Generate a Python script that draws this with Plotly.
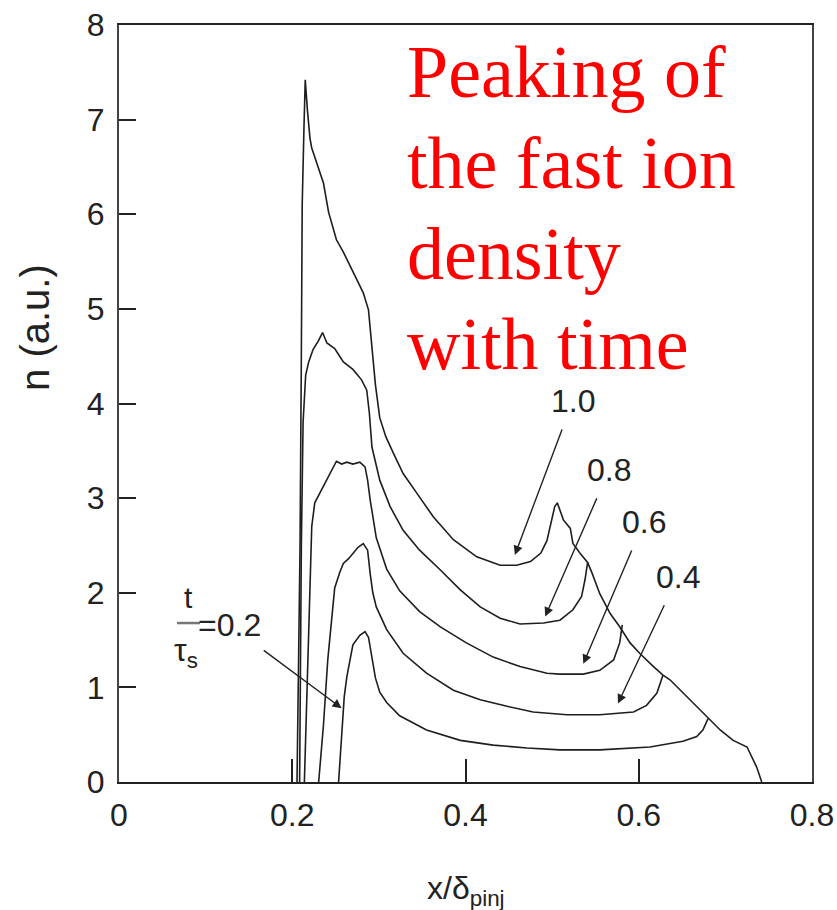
import plotly.graph_objects as go

# ---------------- data ----------------
x_t10 = [0.2055, 0.209, 0.2105, 0.2115, 0.2135, 0.2150, 0.2175, 0.2205, 0.2225, 0.226, 0.230,
         0.236, 0.242, 0.251, 0.259, 0.267, 0.275, 0.282, 0.288, 0.292, 0.296, 0.301, 0.308,
         0.317, 0.328, 0.344, 0.363, 0.386, 0.413, 0.440, 0.459, 0.475, 0.487, 0.494, 0.499,
         0.503, 0.506, 0.510, 0.513, 0.521, 0.524, 0.532, 0.541, 0.546, 0.555, 0.567, 0.578,
         0.590, 0.601, 0.617, 0.628, 0.636, 0.648, 0.663, 0.680, 0.694, 0.709, 0.725, 0.736, 0.742]
n_t10 = [0.0, 2.5, 4.5, 6.1, 6.9, 7.42, 7.1, 6.8, 6.7, 6.6, 6.48,
         6.33, 6.02, 5.73, 5.6, 5.45, 5.3, 5.17, 4.99, 4.6, 4.2, 3.85, 3.65,
         3.47, 3.26, 3.05, 2.80, 2.56, 2.38, 2.29, 2.29, 2.33, 2.42, 2.55, 2.77,
         2.91, 2.95, 2.85, 2.77, 2.68, 2.52, 2.42, 2.32, 2.21, 1.99, 1.78, 1.64,
         1.47, 1.36, 1.22, 1.13, 1.08, 0.97, 0.83, 0.67, 0.55, 0.44, 0.37, 0.16, 0.0]

x_t08 = [0.2085, 0.2105, 0.2125, 0.2155, 0.219, 0.224, 0.230, 0.235, 0.240, 0.249, 0.259,
         0.270, 0.280, 0.286, 0.289, 0.292, 0.301, 0.313, 0.328, 0.347, 0.371, 0.394, 0.417,
         0.440, 0.463, 0.490, 0.509, 0.524, 0.534, 0.538, 0.541]
n_t08 = [0.0, 2.5, 3.8, 4.3, 4.44, 4.57, 4.66, 4.75, 4.64, 4.58, 4.44,
         4.36, 4.25, 4.14, 3.9, 3.54, 3.19, 2.91, 2.66, 2.45, 2.24, 2.03, 1.85,
         1.73, 1.67, 1.68, 1.71, 1.82, 1.96, 2.14, 2.32]

x_t06 = [0.214, 0.2175, 0.2205, 0.2225, 0.226, 0.234, 0.244, 0.251, 0.257, 0.263, 0.270,
         0.278, 0.284, 0.287, 0.290, 0.297, 0.309, 0.324, 0.347, 0.371, 0.401, 0.432, 0.463,
         0.494, 0.509, 0.536, 0.555, 0.571, 0.578, 0.581]
n_t06 = [0.0, 1.2, 2.2, 2.7, 2.95, 3.09, 3.26, 3.39, 3.36, 3.38, 3.36,
         3.38, 3.33, 3.19, 2.98, 2.58, 2.25, 2.02, 1.80, 1.64, 1.47, 1.32, 1.22,
         1.15, 1.14, 1.14, 1.18, 1.29, 1.47, 1.66]

x_t04 = [0.2305, 0.236, 0.241, 0.246, 0.249, 0.255, 0.259, 0.265, 0.270, 0.276, 0.282,
         0.287, 0.290, 0.293, 0.297, 0.309, 0.328, 0.355, 0.386, 0.417, 0.448, 0.478,
         0.517, 0.555, 0.594, 0.609, 0.621, 0.626, 0.628]
n_t04 = [0.0, 0.6, 1.29, 1.8, 2.05, 2.22, 2.31, 2.36, 2.42, 2.48, 2.52,
         2.45, 2.2, 2.0, 1.85, 1.61, 1.36, 1.15, 0.97, 0.87, 0.80, 0.74,
         0.71, 0.71, 0.74, 0.81, 0.94, 1.06, 1.13]

x_t02 = [0.2535, 0.255, 0.257, 0.260, 0.263, 0.267, 0.270, 0.278, 0.284, 0.288, 0.292,
         0.296, 0.301, 0.309, 0.324, 0.355, 0.394, 0.432, 0.471, 0.509, 0.555, 0.613,
         0.651, 0.667, 0.674, 0.680]
n_t02 = [0.0, 0.2, 0.58, 0.9, 1.11, 1.32, 1.45, 1.55, 1.59, 1.53, 1.3,
         1.1, 0.95, 0.84, 0.70, 0.55, 0.44, 0.39, 0.36, 0.34, 0.34, 0.37,
         0.43, 0.48, 0.55, 0.67]

curve_labels = ["1.0", "0.8", "0.6", "0.4"]
label_pos_x = [0.524, 0.566, 0.606, 0.645]
label_pos_y = [4.03, 3.30, 2.75, 2.17]
arrow_tip_x = [0.457, 0.492, 0.536, 0.576]
arrow_tip_y = [2.40, 1.75, 1.25, 0.83]

x_ticks = [0, 0.2, 0.4, 0.6, 0.8]
x_tick_text = ["0", "0.2", "0.4", "0.6", "0.8"]
y_ticks = [0, 1, 2, 3, 4, 5, 6, 7, 8]
y_tick_text = ["0", "1", "2", "3", "4", "5", "6", "7", "8"]

red_lines = ["Peaking of", "the fast ion", "density", "with time"]

# ---------------- figure ----------------
LINE = "#1e1e1e"
SANS = "Liberation Sans, Arial, sans-serif"
TXT = "#222"

fig = go.Figure()
for xs, ys in [(x_t10, n_t10), (x_t08, n_t08), (x_t06, n_t06), (x_t04, n_t04), (x_t02, n_t02)]:
    fig.add_trace(go.Scatter(x=xs, y=ys, mode="lines",
                             line=dict(color=LINE, width=1.6), showlegend=False,
                             hoverinfo="skip"))

ann = []
for lab, lx, ly, hx, hy in zip(curve_labels, label_pos_x, label_pos_y, arrow_tip_x, arrow_tip_y):
    ann.append(dict(x=hx, y=hy, ax=lx, ay=ly, xref="x", yref="y", axref="x", ayref="y",
                    text=lab, showarrow=True, arrowhead=2, arrowsize=1.3, arrowwidth=1.4,
                    arrowcolor=TXT, startstandoff=10, xanchor="center", yanchor="middle",
                    font=dict(family=SANS, size=32, color=TXT)))

# t/tau_s = 0.2 label
ann.append(dict(x=0.0797, y=1.945, xref="x", yref="y", text="t", showarrow=False,
                xanchor="center", yanchor="middle",
                font=dict(family=SANS, size=30, color=TXT)))
ann.append(dict(x=0.0773, y=1.37, xref="x", yref="y", text="τ<sub>s</sub>", showarrow=False,
                xanchor="center", yanchor="middle",
                font=dict(family=SANS, size=32, color=TXT)))
ann.append(dict(x=0.257, y=0.78, ax=0.1275, ay=1.66, xref="x", yref="y", axref="x", ayref="y",
                text="=0.2", showarrow=True, arrowhead=2, arrowsize=1.3, arrowwidth=1.4,
                arrowcolor=TXT, startstandoff=10, xanchor="center", yanchor="middle",
                font=dict(family=SANS, size=32, color=TXT)))

# red commentary text
red_y = [7.05, 6.09, 5.13, 4.17]
for txt, ry in zip(red_lines, red_y):
    ann.append(dict(x=0.330, y=ry, xref="x", yref="y", text=txt, showarrow=False,
                    xanchor="left", yanchor="bottom",
                    font=dict(family="Liberation Serif, Times New Roman, serif", size=74,
                              color="#ff0000")))

# axis titles
ann.append(dict(x=-0.121, y=4.8, xref="paper", yref="y", text="n (a.u.)", showarrow=False,
                textangle=-90, xanchor="center", yanchor="middle",
                font=dict(family=SANS, size=40, color=TXT)))
ann.append(dict(x=0.5, y=-0.1427, xref="paper", yref="paper", text="x/δ<sub>pinj</sub>",
                showarrow=False, xanchor="center", yanchor="middle",
                font=dict(family=SANS, size=32, color=TXT)))

fig.update_layout(
    width=837, height=910,
    margin=dict(l=119, r=25, t=25, b=128, autoexpand=False),
    paper_bgcolor="white", plot_bgcolor="white",
    showlegend=False,
    annotations=ann,
    shapes=[dict(type="line", xref="x", yref="y", x0=0.067, x1=0.0935, y0=1.68, y1=1.68,
                 line=dict(color="#777", width=2.5))],
)
fig.update_xaxes(range=[0, 0.8], tickvals=x_ticks, ticktext=x_tick_text,
                 ticks="inside", ticklen=23, tickwidth=1.5, tickcolor=TXT,
                 showline=True, linecolor=TXT, linewidth=2, mirror=True,
                 showgrid=False, zeroline=False, ticklabelstandoff=4,
                 ticklabeloverflow="allow", automargin=False,
                 tickfont=dict(family=SANS, size=32, color=TXT))
fig.update_yaxes(range=[0, 8], tickvals=y_ticks, ticktext=y_tick_text,
                 ticks="inside", ticklen=17, tickwidth=1.5, tickcolor=TXT,
                 showline=True, linecolor="#444", linewidth=2, mirror=True,
                 showgrid=False, zeroline=False, ticklabelstandoff=6,
                 ticklabeloverflow="allow", automargin=False,
                 tickfont=dict(family=SANS, size=32, color=TXT))

fig.write_html("out.html")
